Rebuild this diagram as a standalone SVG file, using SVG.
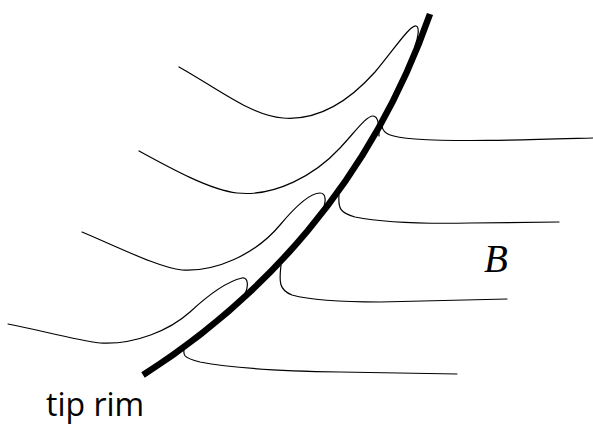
<svg xmlns="http://www.w3.org/2000/svg" width="593" height="426" viewBox="0 0 593 426">
<style>
.fl{fill:none;stroke:#000;stroke-width:1.2;stroke-linecap:round}
.rim{fill:none;stroke:#000;stroke-width:6.5;stroke-linecap:butt}
.lbl{font-family:"Open Sans","DejaVu Sans",sans-serif;font-size:32px;fill:#000}
.sym{font-family:"Liberation Serif","DejaVu Serif",serif;font-style:italic;font-size:39px;fill:#000}
</style>
<rect width="593" height="426" fill="#fff"/>
<g id="connectors">
<path class="fl" d="M179,67 C220,90 250,115 283,118 C320,121 350,100 375,72 C395,48 410,25 416,26 C420,27 418,38 415,46 M382,126 C383,134 390,137 415,139 C460,142 520,140 593,138"/>
<path class="fl" d="M139,151 C170,168 210,190 237,193 C275,197 315,175 340,148 C355,132 366,116 373,116 C379,116 379,128 379,136 M339,195 C338,208 340,213 355,217 C380,222 420,224 470,223 L559,222"/>
<path class="fl" d="M82,232 C120,248 160,268 182,270 C215,272 255,255 280,225 C295,207 310,193 320,193 C327,193 326,203 322,212 M281,265 C279,282 279,290 292,295 C310,300 340,302 380,302 L507,299"/>
<path class="fl" d="M8,324 C40,330 75,340 100,343 C135,345 170,330 190,312 C205,298 225,282 242,278 C250,277 248,290 243,297 M185,345 C182,355 183,358 200,362 C230,368 280,371 340,372 L457,374"/>
</g>
<g id="rim">
<path class="rim" d="M143,375 C260,300 370,185 430,14"/>
</g>
<g id="label-B"><text class="sym" x="484" y="272">B</text></g>
<g id="label-tip-rim"><text class="lbl" x="46" y="416">tip rim</text></g>
</svg>
